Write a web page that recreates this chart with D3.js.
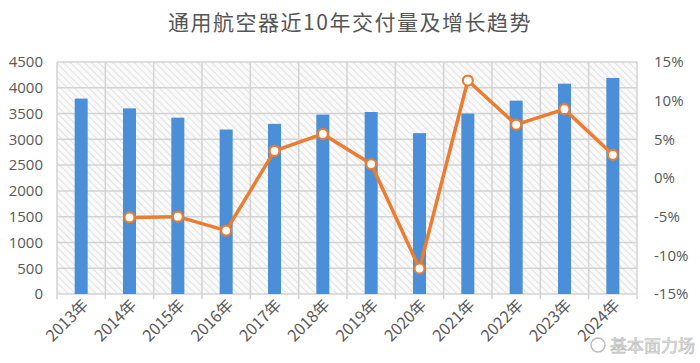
<!DOCTYPE html>
<html><head><meta charset="utf-8">
<script src="https://cdn.jsdelivr.net/npm/d3@7"></script>
<style>body{margin:0;background:#fff;}svg{display:block;}</style>
</head><body>
<svg id="c" width="700" height="363"></svg>
<script>
const years = ["2013年","2014年","2015年","2016年","2017年","2018年","2019年","2020年","2021年","2022年","2023年","2024年"];
const deliveries = [3790, 3600, 3420, 3190, 3300, 3480, 3530, 3120, 3500, 3750, 4080, 4190];
const growth = [null, -5.1, -5.0, -6.8, 3.5, 5.7, 1.8, -11.7, 12.6, 6.9, 8.9, 3.0];
const leftTicks = [0,500,1000,1500,2000,2500,3000,3500,4000,4500];
const rightTicks = [-15,-10,-5,0,5,10,15];
const title = "通用航空器近10年交付量及增长趋势";

const svg = d3.select("#c");
const L = 57, R = 637, T = 62, B = 294;
const font = "'Noto Sans CJK SC','Noto Sans',sans-serif";
const tickFont = "'Open Sans','Noto Sans',sans-serif";

const defs = svg.append("defs");
const pat = defs.append("pattern").attr("id","hatch").attr("patternUnits","userSpaceOnUse")
  .attr("width",5).attr("height",5).attr("patternTransform","rotate(-45)");
pat.append("rect").attr("width",5).attr("height",5).attr("fill","#fafafa");
pat.append("line").attr("x1",0).attr("y1",0).attr("x2",0).attr("y2",5).attr("stroke","#d6d6d6").attr("stroke-width",1.3);

const x = d3.scaleBand().domain(years).range([L,R]).padding(0);
const y = d3.scaleLinear().domain([0,4500]).range([B,T]);
const y2 = d3.scaleLinear().domain([-15,15]).range([B,T]);

svg.append("rect").attr("x",L).attr("y",T).attr("width",R-L).attr("height",B-T).attr("fill","url(#hatch)");

// grid
svg.append("g").selectAll("line").data(leftTicks).join("line")
  .attr("x1",L).attr("x2",R).attr("y1",d=>y(d)).attr("y2",d=>y(d))
  .attr("stroke","#d3d3d3").attr("stroke-width",1.5);
const bounds = years.map(d=>x(d)).concat([R]);
svg.append("g").selectAll("line").data(bounds).join("line")
  .attr("x1",d=>d).attr("x2",d=>d).attr("y1",T).attr("y2",B+5)
  .attr("stroke","#d3d3d3").attr("stroke-width",1.5);

// title
svg.append("text").attr("x",350).attr("y",30).attr("text-anchor","middle")
  .attr("font-family",font).attr("font-size",21).attr("fill","#555").attr("letter-spacing",1.5).text(title);

// bars
const bw = 13;
svg.append("g").selectAll("rect").data(deliveries).join("rect")
  .attr("x",(d,i)=>x(years[i])+x.bandwidth()/2-bw/2).attr("width",bw)
  .attr("y",d=>y(d)).attr("height",d=>B-y(d)).attr("fill","#4a8fd7");

// line
const pts = growth.map((g,i)=>({g,i})).filter(d=>d.g!==null);
svg.append("path").datum(pts)
  .attr("d",d3.line().x(d=>x(years[d.i])+x.bandwidth()/2).y(d=>y2(d.g)))
  .attr("fill","none").attr("stroke","#ec7c30").attr("stroke-width",3.5).attr("stroke-linejoin","round");
svg.append("g").selectAll("circle").data(pts).join("circle")
  .attr("cx",d=>x(years[d.i])+x.bandwidth()/2).attr("cy",d=>y2(d.g)).attr("r",5)
  .attr("fill","#fff").attr("stroke","#ec7c30").attr("stroke-width",2.2);

// left axis
const ax = d3.axisLeft(y).tickValues(leftTicks).tickSize(0).tickPadding(14).tickFormat(d3.format("d"));
const gl = svg.append("g").attr("transform",`translate(${L},0)`).call(ax);
gl.select(".domain").remove();
gl.selectAll("text").attr("font-family",tickFont).attr("font-size",15).attr("fill","#595959");

// right axis
const ax2 = d3.axisRight(y2).tickValues(rightTicks).tickSize(0).tickPadding(17).tickFormat(d=>d+"%");
const gr = svg.append("g").attr("transform",`translate(${R},0)`).call(ax2);
gr.select(".domain").remove();
gr.selectAll("text").attr("font-family",tickFont).attr("font-size",15).attr("fill","#595959");

// x labels
svg.append("g").selectAll("text").data(years).join("text")
  .attr("transform",d=>`translate(${x(d)+x.bandwidth()/2+5},${B+9}) rotate(-45)`)
  .attr("text-anchor","end").attr("dominant-baseline","middle")
  .attr("font-family",font).attr("font-size",16).attr("fill","#595959").text(d=>d);

// watermark
svg.append("text").attr("x",695).attr("y",352).attr("text-anchor","end")
  .attr("font-family",font).attr("font-size",17).attr("fill","#e4e4e4")
  .attr("stroke","#b8b8b8").attr("stroke-width",0.6).text("基本面力场");
svg.append("circle").attr("cx",598).attr("cy",345).attr("r",7).attr("fill","none").attr("stroke","#bbb").attr("stroke-width",1.5);
</script>
</body></html>
